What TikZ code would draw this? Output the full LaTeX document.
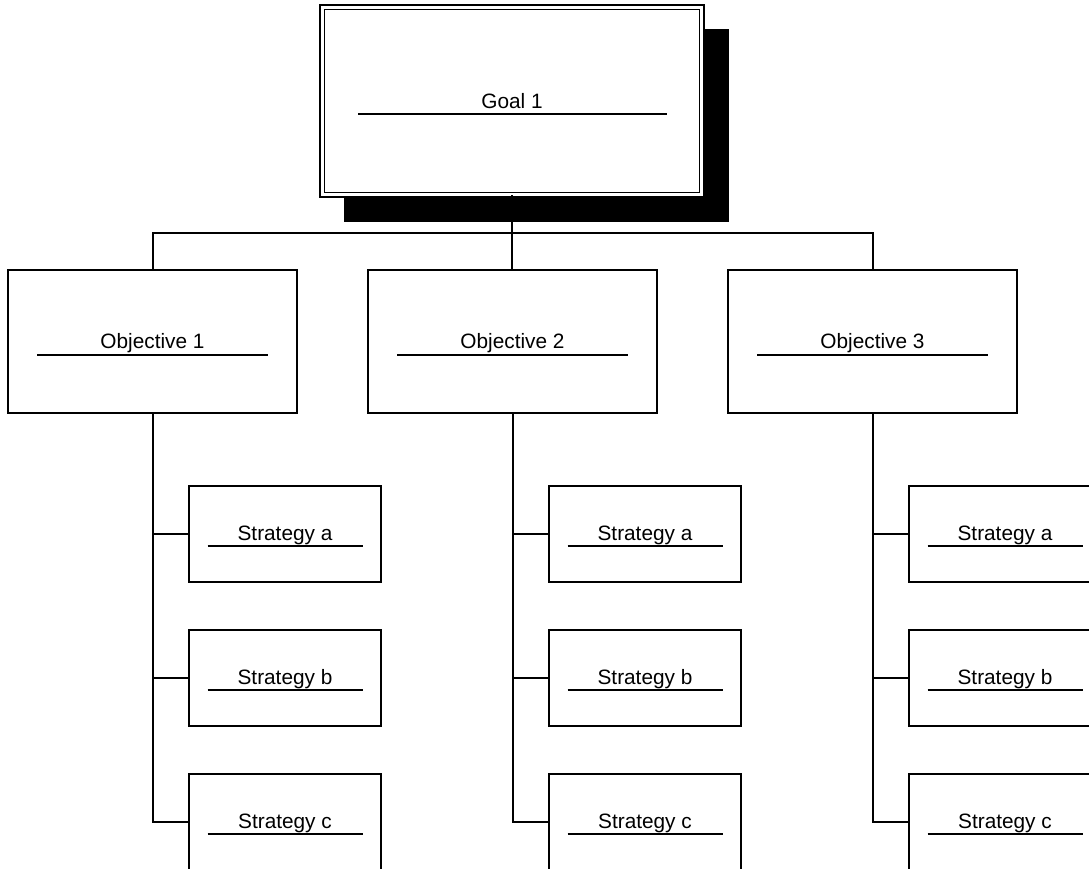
\documentclass[tikz,border=0pt]{standalone}
\usepackage{fontspec}
\setmainfont{Liberation Sans}
\begin{document}
\begin{tikzpicture}[x=0.5pt,y=-0.5pt, line width=0.9pt,
  goalbox/.style={draw, rectangle, inner sep=0pt, fill=white, double, double distance=1.6pt, line width=0.6pt, minimum width=189.75pt, minimum height=93.75pt},
  objbox/.style={draw, rectangle, inner sep=0pt, line width=0.95pt, minimum width=144.5pt, minimum height=71.5pt},
  stratbox/.style={draw, rectangle, inner sep=0pt, line width=0.95pt, minimum width=96pt, minimum height=48pt},
  lbl/.style={anchor=base, inner sep=0pt, font=\fontsize{10.4}{12}\selectfont},
  uline/.style={line width=0.8pt},
  conn/.style={line width=1pt}]
\useasboundingbox (0,0) rectangle (1089,869);
\clip (0,0) rectangle (1089,869);
% goal with shadow
\coordinate (gc) at (512,101);
\fill ([shift={(-168,-72)}]gc) rectangle ([shift={(217,121)}]gc);
\node[goalbox] (goal) at (gc) {};
\node[lbl] (goalt) at ([shift={(0,7)}]goal.center) {Goal 1};
\draw[uline] ([shift={(-154,13)}]goal.center) -- ([shift={(155,13)}]goal.center);
% objectives
\foreach \c/\x in {1/152.5, 2/512.5, 3/872.5}{
  \node[objbox] (o\c) at (\x,341.5) {};
  \node[lbl] (o\c t) at ([shift={(0,6.5)}]o\c.center) {Objective \c};
  \draw[uline] ([shift={(-115.5,13.5)}]o\c.center) -- ([shift={(115.5,13.5)}]o\c.center);
}
% goal connectors
\draw[conn] (goal.south) -- ++(0,38) -| (o1.north);
\draw[conn] (goal.south) -- ++(0,38) -| (o3.north);
\draw[conn] (goal.south) -- (goal.south |- o2.north);
% strategies
\foreach \c/\x in {1/285, 2/645, 3/1005}{
  \foreach \s/\y in {a/534, b/678, c/822}{
    \node[stratbox] (s\c\s) at (\x,\y) {};
    \node[lbl] (s\c\s t) at ([shift={(0,6)}]s\c\s.center) {Strategy \s};
    \draw[uline] ([shift={(-77.5,12)}]s\c\s.center) -- ([shift={(77.5,12)}]s\c\s.center);
    \draw[conn] (o\c.south) |- (s\c\s.west);
  }
}
\end{tikzpicture}
\end{document}
